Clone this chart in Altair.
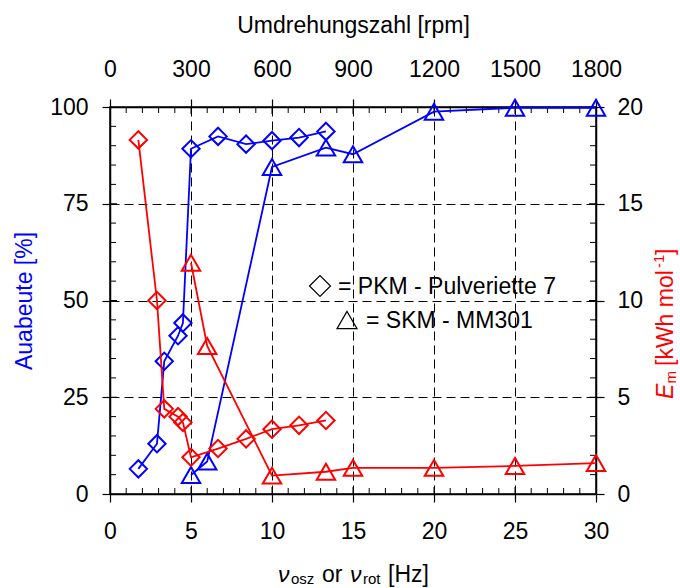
import altair as alt
import pandas as pd

FONT = "Liberation Sans"
BLUE = "#0000ff"
RED = "#ff0000"

# PKM - Pulveriette 7 (diamonds)
pkm_hz = [1.75, 2.9, 3.35, 4.2, 4.5, 5.0, 6.67, 8.4, 10.0, 11.67, 13.33]
pkm_yield = [6.5, 13.0, 34.3, 40.9, 44.2, 89.2, 92.4, 90.4, 91.3, 92.1, 93.7]
pkm_em = [18.3, 10.0, 4.4, 4.0, 3.7, 1.9, 2.35, 2.85, 3.35, 3.55, 3.8]

# SKM - MM301 (triangles)
skm_hz = [5.0, 6.0, 10.0, 13.33, 15.0, 20.0, 25.0, 30.0]
skm_yield = [4.9, 8.4, 84.5, 89.5, 87.8, 98.8, 99.8, 99.8]
skm_em = [11.95, 7.65, 0.95, 1.15, 1.35, 1.35, 1.45, 1.6]

# axis ticks
hz_ticks = [0, 5, 10, 15, 20, 25, 30]
hz_inner_major = [5, 10, 15, 20, 25]
hz_minor = [v for v in range(0, 31) if v % 5 != 0]
rpm_ticks = [0, 300, 600, 900, 1200, 1500, 1800]
yield_ticks = [0, 25, 50, 75, 100]
yield_inner_major = [25, 50, 75]
yield_minor = [v for v in range(0, 101, 5) if v % 25 != 0]
em_ticks = [0, 5, 10, 15, 20]

W, H = 486, 387

x_scale = alt.Scale(domain=[0, 30], nice=False, zero=False)
y_scale = alt.Scale(domain=[0, 100], nice=False, zero=False)
rpm_scale = alt.Scale(domain=[0, 1800], nice=False, zero=False)
em_scale = alt.Scale(domain=[0, 20], nice=False, zero=False)

ax_bottom = alt.Axis(orient="bottom", values=hz_ticks, title=None, grid=True, format="d",
                     gridDash=[9, 5], gridColor="black", gridOpacity=1, gridWidth=1,
                     tickSize=8, labelPadding=18, labelFlush=False, labelOverlap=False)
ax_left = alt.Axis(orient="left", values=yield_ticks, title="Auabeute [%]", format="d",
                   titleColor=BLUE, titleX=-79, titleY=H / 2, titleAngle=270,
                   titleAlign="center", titleBaseline="alphabetic",
                   grid=True, gridDash=[9, 5], gridColor="black", gridOpacity=1, gridWidth=1,
                   tickSize=8, labelPadding=14, labelFlush=False, labelOverlap=False)
ax_top = alt.Axis(orient="top", values=rpm_ticks, title="Umdrehungszahl [rpm]", format="d",
                  titleY=-75, titleBaseline="alphabetic", grid=False,
                  tickSize=8, labelPadding=18, labelFlush=False, labelOverlap=False)
ax_right = alt.Axis(orient="right", values=em_ticks, title=None, grid=False, format="d",
                    tickSize=8, labelPadding=13, labelFlush=False, labelOverlap=False)

XA = lambda f: alt.X(f, scale=x_scale, axis=ax_bottom)
YA = lambda f: alt.Y(f, scale=y_scale, axis=ax_left)

blue_pkm = pd.DataFrame({"hz": pkm_hz, "val": pkm_yield})
blue_skm = pd.DataFrame({"hz": skm_hz, "val": skm_yield})
red_pkm = pd.DataFrame({"hz": pkm_hz, "val": pkm_em})
red_skm = pd.DataFrame({"hz": skm_hz, "val": skm_em})

DIA, TRI = 300, 340


def series(df, color, shape, size, xenc, yenc):
    line = alt.Chart(df).mark_line(color=color, strokeWidth=1.8).encode(x=xenc, y=yenc)
    pts = alt.Chart(df).mark_point(shape=shape, filled=False, color=color,
                                   strokeWidth=2, size=size, opacity=1).encode(x=xenc, y=yenc)
    return [line, pts]


def xticks(vals, y0, y1):
    return alt.Chart(pd.DataFrame({"v": vals})).mark_rule(color="black", strokeWidth=1).encode(
        x=XA("v:Q"), y=alt.value(y0), y2=alt.value(y1))


def yticks(vals, x0, x1):
    return alt.Chart(pd.DataFrame({"v": vals})).mark_rule(color="black", strokeWidth=1).encode(
        y=YA("v:Q"), x=alt.value(x0), x2=alt.value(x1))


def label(text, x, y, size=23, color="black", style="normal", angle=0,
          align="left", baseline="alphabetic"):
    return alt.Chart(alt.Data(values=[{"t": text}])).mark_text(
        font=FONT, fontSize=size, color=color, fontStyle=style, angle=angle,
        align=align, baseline=baseline).encode(
        x=alt.value(x), y=alt.value(y), text="t:N")


def symbol(shape, x, y, size):
    return alt.Chart(alt.Data(values=[{"t": 1}])).mark_point(
        shape=shape, filled=False, color="black", strokeWidth=1.2, size=size, opacity=1).encode(
        x=alt.value(x), y=alt.value(y))


layers_a = [
    xticks(hz_minor, H, H - 6), xticks(hz_minor, 0, 6),
    xticks(hz_inner_major, H, H - 7), xticks(hz_inner_major, 0, 7),
    yticks(yield_minor, 0, 6), yticks(yield_minor, W, W - 6),
    yticks(yield_inner_major, 0, 7), yticks(yield_inner_major, W, W - 7),
]
layers_a += series(blue_pkm, BLUE, "diamond", DIA, XA("hz:Q"), YA("val:Q"))
layers_a += series(blue_skm, BLUE, "triangle-up", TRI, XA("hz:Q"), YA("val:Q"))

# legend annotation
layers_a += [
    symbol("diamond", 210, 179, 441),
    label("= PKM - Pulveriette 7", 228, 187),
    symbol("triangle-up", 237, 213, 400),
    label("= SKM - MM301", 256, 221),
]

# bottom axis title with subscripts
layers_a += [
    label("ν", 168, 475, style="italic"),
    label("osz", 181, 477, size=15),
    label("or", 212, 475),
    label("ν", 240, 475, style="italic"),
    label("rot", 253, 477, size=15),
    label("[Hz]", 278, 475),
]

# right axis title (rotated) with sub/superscripts
layers_a += [
    label("E", 563, 292, color=RED, style="italic", angle=270),
    label("m", 566, 276.5, size=15, color=RED, angle=270),
    label("[kWh mol", 563, 259, color=RED, angle=270),
    label("-1", 554, 161, size=15, color=RED, angle=270),
    label("]", 563, 148, color=RED, angle=270),
]

layer_a = alt.layer(*layers_a)

XB = alt.X("rpm:Q", scale=rpm_scale, axis=ax_top)
YB = alt.Y("val:Q", scale=em_scale, axis=ax_right)


def red_series(df, shape, size):
    base = alt.Chart(df).transform_calculate(rpm="datum.hz * 60")
    line = base.mark_line(color=RED, strokeWidth=1.8).encode(x=XB, y=YB)
    pts = base.mark_point(shape=shape, filled=False, color=RED, strokeWidth=2,
                          size=size, opacity=1).encode(x=XB, y=YB)
    return [line, pts]


layer_b = alt.layer(*(red_series(red_pkm, "diamond", DIA) + red_series(red_skm, "triangle-up", TRI)))

chart = alt.layer(layer_a, layer_b).resolve_scale(x="independent", y="independent").properties(
    width=W, height=H,
    padding={"left": 110, "top": 107, "right": 84, "bottom": 94},
    autosize=alt.AutoSizeParams(type="none"),
    background="white",
).configure_view(stroke="black", strokeWidth=1.5).configure_axis(
    labelFont=FONT, labelFontSize=23, labelColor="black",
    titleFont=FONT, titleFontSize=23, titleFontWeight="normal", titleColor="black",
    tickColor="black", tickWidth=1.2, domainColor="black", domainWidth=1.5,
)

chart.save("out.html", embed_options={"renderer": "svg", "actions": False})
